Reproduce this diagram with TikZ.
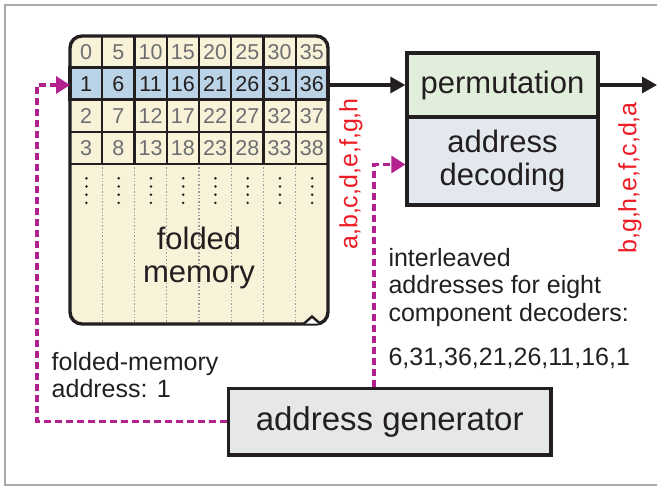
\documentclass[tikz,border=0pt]{standalone}
\usepackage{fontspec}
\setmainfont{Liberation Sans}
\usetikzlibrary{arrows.meta}

\definecolor{linedark}{HTML}{231F20}
\definecolor{numgray}{HTML}{6D6E71}
\definecolor{memcream}{HTML}{F8F2D8}
\definecolor{cellblue}{HTML}{BBD3E6}
\definecolor{permgreen}{HTML}{E2EEDC}
\definecolor{decblue}{HTML}{E3E8EF}
\definecolor{gengray}{HTML}{E6E7E8}
\definecolor{addrmagenta}{HTML}{B3218F}
\definecolor{labelred}{HTML}{ED1C24}
\definecolor{framegray}{HTML}{A7A9AC}
\definecolor{dotgray}{HTML}{9A9A9A}

\newcommand{\notefont}{\fontsize{25}{27.5}\selectfont}
\newcommand{\boxfont}{\fontsize{31}{33.3}\selectfont}
\newcommand{\genfont}{\fontsize{33}{36}\selectfont}
\newcommand{\cellfont}{\fontsize{21.5}{23}\selectfont}

\begin{document}
\begin{tikzpicture}[x=1pt, y=-1pt,
    box/.style={draw=linedark, line width=3.3pt, inner sep=0pt, text=linedark, font=\boxfont},
    cellnum/.style={inner sep=0pt, font=\cellfont},
    addr/.style={draw=addrmagenta, line width=3.4pt, dash pattern=on 7pt off 4pt, -{Triangle[length=14pt,width=17pt]}},
    flow/.style={draw=linedark, line width=3.2pt, -{Triangle[length=15pt,width=16pt]}},
    note/.style={inner sep=0pt, text=linedark, align=left, font=\notefont},
    lanes/.style={inner sep=0pt, rotate=90, text=labelred, font=\notefont}]
				% 0. frame
				\useasboundingbox (0,0) rectangle (657,487);
				\draw[framegray, line width=2.2pt] (657,5) -- (5,5) -- (5,485) -- (657,485);
				
				% 1. folded memory block
				\coordinate (memnw) at (70,36);
				\coordinate (memse) at (328,324);
				\coordinate (memin) at (70,85);
				\coordinate (memout) at (328,85);
				\fill[memcream, rounded corners=12pt] (memnw) rectangle (memse);
				\fill[cellblue] (70,67.5) rectangle (328,99.7);
				% dotted columns below the rows
				\foreach \i in {1,...,7}
					\draw[dotgray, line width=1.4pt, dotted] (70+32.25*\i,164) -- (70+32.25*\i,324);
				% grid of the first rows
				\foreach \i in {1,...,7}
					\draw[linedark, line width=2.2pt] (70+32.25*\i,36) -- (70+32.25*\i,164);
				\foreach \y in {132,164}
					\draw[linedark, line width=2.2pt] (70,\y) -- (328,\y);
				\draw[linedark, line width=3.6pt] (70,67.5) rectangle (328,99.7);
				% cell numbers (row 1 is the one being read)
				\foreach \r/\ry/\tc in {0/51.8/numgray, 1/83.8/linedark, 2/116/numgray, 3/147.8/numgray}
					\foreach \c in {0,...,7} {
						\pgfmathtruncatemacro{\v}{5*\c+\r}
						\node[cellnum, text=\tc] (cell-\c-\r) at (86.1+32.25*\c,\ry) {\v};
					}
				% vertical dots
				\foreach \c in {0,...,7}
					\foreach \d in {0,...,3}
						\fill[linedark] (86.4+32.25*\c,178.3+8.2*\d) circle (1.4pt);
				\draw[linedark, line width=3.4pt, rounded corners=12pt] (memnw) rectangle (memse);
				\draw[linedark, line width=2.4pt, fill=white] (304,323.5) -- (312,316.5) -- (320,323.5);
				\node[align=center, text=linedark, font=\boxfont, inner sep=0pt] (memlabel) at (199,258) {folded\\memory};
				
				% 2. permutation and address decoding
				\node[box, fill=permgreen, minimum width=191pt, minimum height=64pt] (perm) at (502.5,85) {permutation};
				\node[box, fill=decblue, minimum width=191pt, minimum height=88pt, align=center] (dec) at (502.5,161) {address\\decoding};
				\coordinate (out) at (657,85);
				\coordinate (decin) at ([yshift=-3.5pt]dec.west);
				
				% 3. address generator
				\node[box, fill=gengray, minimum width=322.7pt, minimum height=66.7pt, font=\genfont] (gen) at (389.7,421.5) {address generator};
				\coordinate (lbend) at (37,85);
				\coordinate (rx) at (374,0);
				
				% 4. data path
				\draw[flow] (memout) -- (perm.west);
				\draw[flow] (perm.east) -- (out);
				
				% 5. address paths (dashed)
				\draw[addr] (gen.west) -| (lbend) -- (memin);
				\draw[addr] (gen.north -| rx) |- (decin);
				
				% 6. labels
				\node[lanes] (inlanes) at (351,174) {a,b,c,d,e,f,g,h};
				\node[lanes] (outlanes) at (630,178) {b,g,h,e,f,c,d,a};
				\node[note, anchor=north west] (memaddr) at (51.5,352) {folded-memory\\address: 1};
				\node[note, anchor=north west] (ilv) at (388.3,248) {interleaved\\addresses for eight\\component decoders:\\[17pt]6,31,36,21,26,11,16,1};
				
\end{tikzpicture}
\end{document}
